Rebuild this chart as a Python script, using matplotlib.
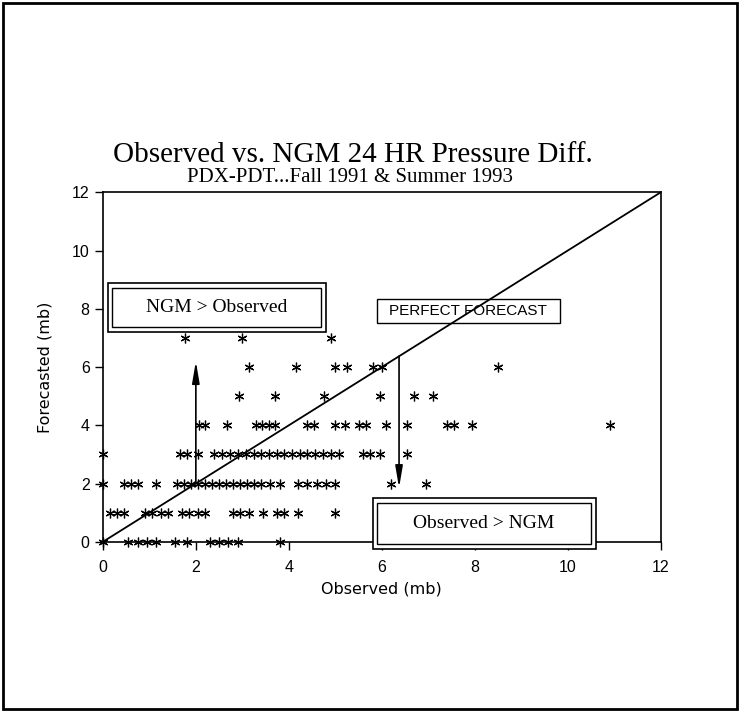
import matplotlib
matplotlib.use("Agg")
import matplotlib.pyplot as plt
from matplotlib.patches import Rectangle

# observed (mb) values for each forecast row
f0 = [0, 0.55, 0.75, 0.95, 1.15, 1.55, 1.8, 2.3, 2.5, 2.7, 2.9, 3.8]
f1 = [0.15, 0.3, 0.45, 0.9, 1.05, 1.25, 1.4, 1.7, 1.85, 2.05, 2.2, 2.8, 2.95,
      3.15, 3.45, 3.75, 3.9, 4.2, 5.0]
f2 = [0, 0.45, 0.6, 0.75, 1.15, 1.6, 1.75, 1.9, 2.05, 2.2, 2.35, 2.5, 2.65, 2.8,
      2.95, 3.1, 3.25, 3.4, 3.6, 3.8, 4.2, 4.4, 4.6, 4.8, 5.0, 6.2, 6.95]
f3 = [0, 1.65, 1.8, 2.05, 2.4, 2.57, 2.74, 2.9, 3.07, 3.24, 3.4, 3.57, 3.74, 3.9,
      4.07, 4.24, 4.4, 4.57, 4.74, 4.9, 5.07, 5.6, 5.75, 5.95, 6.55]
f4 = [2.07, 2.2, 2.68, 3.29, 3.43, 3.57, 3.71, 4.39, 4.54, 5.0, 5.21, 5.5, 5.65,
      6.1, 6.54, 7.4, 7.55, 7.93, 10.9]
f5 = [2.93, 3.7, 4.76, 5.97, 6.7, 7.1]
f6 = [3.15, 4.15, 5.0, 5.25, 5.8, 6.0, 8.5]
f7 = [1.76, 2.99, 4.9]
rows = [f0, f1, f2, f3, f4, f5, f6, f7]

ticks = [0, 2, 4, 6, 8, 10, 12]

obs = []
fc = []
for i, r in enumerate(rows):
    obs += r
    fc += [i] * len(r)

fig = plt.figure(figsize=(7.4, 7.12), dpi=100)
ax = fig.add_axes([0.139, 0.239, 0.754, 0.491])

ax.plot([0, 12], [0, 12], color="black", lw=1.3)
ax.plot(obs, fc, linestyle="none", marker=(6, 2, 0), markersize=7,
        markeredgecolor="black", markeredgewidth=0.9, clip_on=False)

ax.set_xlim(0, 12)
ax.set_ylim(0, 12)
ax.set_xticks(ticks)
ax.set_yticks(ticks)
ax.tick_params(direction="out", length=6, width=1, labelsize=11.5)
ax.tick_params(axis="x", pad=7)
for lab in ax.get_xticklabels() + ax.get_yticklabels():
    lab.set_family("Liberation Sans")
for s in ax.spines.values():
    s.set_linewidth(1.2)

ax.set_xlabel("Observed (mb)", fontsize=11.5, family="DejaVu Sans", labelpad=5)
ax.set_ylabel("Forecasted (mb)", fontsize=11.5, family="DejaVu Sans", labelpad=14)

# boxes
def double_box(x0, y0, x1, y1, dx=0.1, dy=0.17):
    ax.add_patch(Rectangle((x0, y0), x1 - x0, y1 - y0, fill=True, fc="white",
                           ec="black", lw=1.2, clip_on=False, zorder=4))
    ax.add_patch(Rectangle((x0 + dx, y0 + dy), x1 - x0 - 2 * dx, y1 - y0 - 2 * dy,
                           fill=False, ec="black", lw=1.0, clip_on=False, zorder=4))

double_box(0.1, 7.2, 4.8, 8.9)
ax.text(2.45, 8.05, "NGM > Observed", ha="center", va="center", fontsize=14,
        family="Liberation Serif", zorder=5)

double_box(5.8, -0.25, 10.6, 1.5)
ax.text(8.2, 0.62, "Observed > NGM", ha="center", va="center", fontsize=14,
        family="Liberation Serif", zorder=5)

ax.add_patch(Rectangle((5.9, 7.5), 3.93, 0.85, fill=False, ec="black", lw=1.0,
                       zorder=4))
ax.text(7.86, 7.93, "PERFECT FORECAST", ha="center", va="center", fontsize=11,
        family="Liberation Sans", zorder=5)

# arrows
ap = dict(arrowstyle="-|>,head_length=1.3,head_width=0.22", color="black",
          lw=1.2, shrinkA=0, shrinkB=0)
ax.annotate("", xy=(2.0, 6.2), xytext=(2.0, 2.0), arrowprops=ap)
ax.annotate("", xy=(6.37, 1.85), xytext=(6.37, 6.37), arrowprops=ap)

fig.text(0.477, 0.782, "Observed vs. NGM 24 HR Pressure Diff.", ha="center",
         va="center", fontsize=21, family="Liberation Serif")
fig.text(0.473, 0.75, "PDX-PDT...Fall 1991 & Summer 1993", ha="center",
         va="center", fontsize=15, family="Liberation Serif")

fig.patches.append(Rectangle((0.004, 0.004), 0.992, 0.992, transform=fig.transFigure,
                             fill=False, ec="black", lw=2))

fig.savefig("out.png", dpi=100)
